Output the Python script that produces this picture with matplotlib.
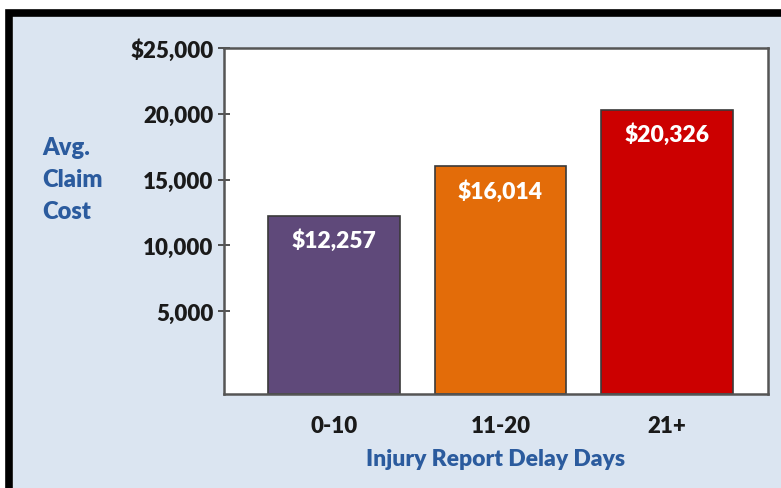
import matplotlib
matplotlib.use("Agg")
import matplotlib.pyplot as plt
from matplotlib.patches import Rectangle
from matplotlib.lines import Line2D
from matplotlib.ticker import FuncFormatter

# data
CATEGORIES = ["0-10", "11-20", "21+"]
AVG_COST = [12257, 16014, 20326]
BAR_COLORS = ["#5f497a", "#e36c09", "#cc0000"]
Y_TICKS = [5000, 10000, 15000, 20000, 25000]
YLABEL_LINES = ["Avg.", "Claim", "Cost"]
XLABEL = "Injury Report Delay Days"

PANEL_COLOR = "#dbe5f1"
BLUE_TEXT = "#2b5b9e"
FONT = "Lato"
WEIGHT = "heavy"
Y_BOTTOM = -1290

W, H = 781, 489
fig = plt.figure(figsize=(W / 100, H / 100), dpi=100)
fig.patch.set_facecolor("white")

# light blue panel with heavy black frame on top/left
fig.patches.append(Rectangle((13 / W, 0), 1, 1 - 17 / H, transform=fig.transFigure,
                             facecolor=PANEL_COLOR, edgecolor="none", zorder=-2))
fig.lines.append(Line2D([9 / W, 9 / W, 1.01], [0, 1 - 13.5 / H, 1 - 13.5 / H],
                        transform=fig.transFigure, color="black", linewidth=5.5,
                        solid_joinstyle="miter", zorder=-1))

ax = fig.add_axes([224 / W, 1 - 395 / H, (768 - 224) / W, (395 - 49) / H])
ax.set_zorder(2)
ax.set_facecolor("white")

x = range(len(CATEGORIES))
bars = ax.bar(x, [v - Y_BOTTOM for v in AVG_COST], bottom=Y_BOTTOM, width=0.79,
              color=BAR_COLORS, edgecolor="#3a3a3a", linewidth=1.2, zorder=2)

for bar, val in zip(bars, AVG_COST):
    ax.annotate(f"${val:,}", xy=(bar.get_x() + bar.get_width() / 2, val),
                xytext=(0, -17.5), textcoords="offset points", ha="center", va="center",
                color="white", fontsize=16.5, fontweight=WEIGHT, family=FONT, zorder=3)

ax.set_xlim(-0.66, 2.607)
ax.set_ylim(Y_BOTTOM, 25000)
ax.set_yticks(Y_TICKS)
ax.yaxis.set_major_formatter(FuncFormatter(
    lambda v, p: f"${v:,.0f}" if v == Y_TICKS[-1] else f"{v:,.0f}"))
ax.set_xticks(list(x))
ax.set_xticklabels(CATEGORIES)

for lab in ax.get_yticklabels() + ax.get_xticklabels():
    lab.set_fontweight(WEIGHT)
    lab.set_fontsize(16)
    lab.set_family(FONT)
    lab.set_color("#1a1a1a")

ax.tick_params(axis="y", direction="inout", length=9, width=1.3, color="#444444", pad=3)
ax.tick_params(axis="x", length=0, pad=15)

for spine in ax.spines.values():
    spine.set_color("#555555")
    spine.set_linewidth(1.8)

ax.set_xlabel(XLABEL, fontsize=16.5, fontweight=WEIGHT, color=BLUE_TEXT, family=FONT,
              labelpad=8.5)

for i, line in enumerate(YLABEL_LINES):
    fig.text(42 / W, 1 - (148 + 32 * i) / H, line, ha="left", va="center",
             fontsize=17, fontweight=WEIGHT, color=BLUE_TEXT, family=FONT)

fig.savefig("out.png", dpi=100, facecolor="white")
